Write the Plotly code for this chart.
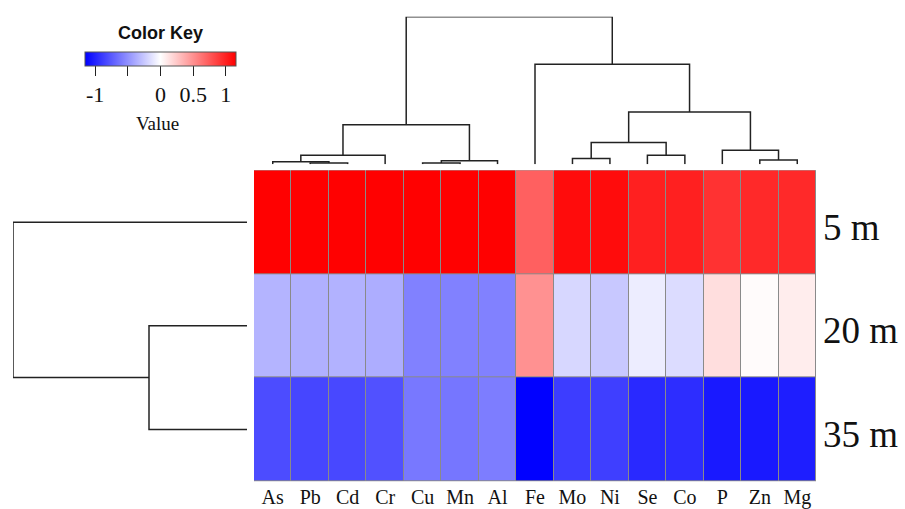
import plotly.graph_objects as go

# ---------------- data ----------------
elements = ["As", "Pb", "Cd", "Cr", "Cu", "Mn", "Al", "Fe", "Mo", "Ni", "Se", "Co", "P", "Zn", "Mg"]
depths = ["5 m", "20 m", "35 m"]

z_5m = [1.15, 1.15, 1.15, 1.15, 1.15, 1.15, 1.15, 0.72, 1.10, 1.10, 1.01, 1.01, 0.93, 0.97, 0.97]
z_20m = [-0.34, -0.36, -0.35, -0.37, -0.57, -0.57, -0.57, 0.50, -0.18, -0.25, -0.08, -0.16, 0.15, 0.02, 0.08]
z_35m = [-0.81, -0.84, -0.83, -0.79, -0.61, -0.62, -0.59, -1.15, -0.88, -0.87, -0.97, -0.95, -1.04, -1.04, -1.02]

# column dendrogram (merge list: left child, right child, height); new clusters named C1, C2, ...
col_link_left = ["Pb", "As", "C2", "Cu", "C4", "C3", "Mo", "Se", "C7", "Zn", "P", "C9", "Fe", "C6"]
col_link_right = ["Cd", "C1", "Cr", "Mn", "Al", "C5", "Ni", "Co", "C8", "Mg", "C10", "C11", "C12", "C13"]
col_link_height = [1.5, 2.7, 9.3, 1.5, 3.7, 40, 6, 9.3, 22, 4.3, 14.3, 53, 101, 149]

# row dendrogram
row_link_left = ["20 m", "5 m"]
row_link_right = ["35 m", "C1"]
row_link_height = [98, 234]

# colour key ticks
key_ticks = [-1, -0.5, 0, 0.5, 1]
key_ticktext = ["-1", "", "0", "0.5", "1"]

# ---------------- helpers ----------------
W, H = 905, 509


def dendro_lines(leaves, lefts, rights, heights):
    pos = {name: i for i, name in enumerate(leaves)}
    hgt = {name: 0.0 for name in leaves}
    xs, hs = [], []
    for k, (a, b, h) in enumerate(zip(lefts, rights, heights), start=1):
        xa, xb = pos[a], pos[b]
        xs += [xa, xa, xb, xb, None]
        hs += [hgt[a], h, h, hgt[b], None]
        pos[f"C{k}"] = (xa + xb) / 2
        hgt[f"C{k}"] = h
    return xs, hs


serif = "Liberation Serif, Times New Roman, serif"
line_col = "#222222"

hm_x = [254 / W, 816 / W]
hm_y = [23 / H, 337 / H]

fig = go.Figure()

# heatmap
fig.add_trace(go.Heatmap(
    z=[z_5m, z_20m, z_35m],
    x=list(range(len(elements))),
    y=list(range(len(depths))),
    zmin=-1.155, zmax=1.155,
    colorscale=[[0, "#0000ff"], [0.5, "#ffffff"], [1, "#ff0000"]],
    xgap=1, ygap=1,
    xaxis="x", yaxis="y",
    hoverinfo="skip",
    colorbar=dict(
        orientation="h",
        x=85 / W, xanchor="left",
        y=(H - 53) / H, yanchor="top",
        len=151, lenmode="pixels",
        thickness=14, thicknessmode="pixels",
        xpad=0, ypad=0,
        outlinewidth=1, outlinecolor="#555555",
        tickmode="array", tickvals=key_ticks, ticktext=key_ticktext,
        ticks="outside", ticklen=10, tickwidth=1, tickcolor="#222222",
        tickfont=dict(family=serif, size=22, color="#111111"),
    ),
))

# top dendrogram
cx, ch = dendro_lines(elements, col_link_left, col_link_right, col_link_height)
fig.add_trace(go.Scatter(x=cx, y=ch, mode="lines", line=dict(color=line_col, width=1.5),
                         xaxis="x2", yaxis="y2", hoverinfo="skip", showlegend=False))

# left dendrogram
rx, rh = dendro_lines(depths, row_link_left, row_link_right, row_link_height)
fig.add_trace(go.Scatter(x=rh, y=rx, mode="lines", line=dict(color=line_col, width=1.5),
                         xaxis="x3", yaxis="y3", hoverinfo="skip", showlegend=False))

fig.update_layout(
    width=W, height=H,
    margin=dict(l=0, r=0, t=0, b=0),
    paper_bgcolor="white", plot_bgcolor="rgba(0,0,0,0)",
    showlegend=False,
    xaxis=dict(domain=hm_x, range=[-0.5, len(elements) - 0.5], tickmode="array",
               tickvals=list(range(len(elements))), ticktext=elements,
               tickfont=dict(family=serif, size=20, color="#111111"),
               showgrid=False, zeroline=False, showline=False, ticks="", ticklabelstandoff=2,
               fixedrange=True),
    yaxis=dict(domain=hm_y, range=[len(depths) - 0.5, -0.5], showticklabels=False,
               showgrid=False, zeroline=False, showline=False, ticks="", fixedrange=True),
    xaxis2=dict(domain=hm_x, range=[-0.5, len(elements) - 0.5], anchor="y2", visible=False),
    yaxis2=dict(domain=[(H - 166) / H, (H - 17) / H], range=[0, 149], anchor="x2", visible=False),
    xaxis3=dict(domain=[13 / W, 247 / W], range=[234, 0], anchor="y3", visible=False),
    yaxis3=dict(domain=hm_y, range=[len(depths) - 0.5, -0.5], anchor="x3", visible=False),
    shapes=[dict(type="rect", xref="x", yref="y", x0=-0.5, x1=len(elements) - 0.5,
                 y0=-0.5, y1=len(depths) - 0.5, fillcolor="#8a8a8a",
                 line=dict(color="#8a8a8a", width=1), layer="below")],
)

annotations = [
    dict(text="<b>Color Key</b>", x=160 / W, y=(H - 33) / H, xref="paper", yref="paper",
         showarrow=False, xanchor="center", yanchor="middle",
         font=dict(family="Liberation Sans, Arial, sans-serif", size=18, color="#111111")),
    dict(text="Value", x=157 / W, y=(H - 125) / H, xref="paper", yref="paper",
         showarrow=False, xanchor="center", yanchor="middle",
         font=dict(family=serif, size=19, color="#111111")),
]
for i, d in enumerate(depths):
    annotations.append(dict(text=d, x=821 / W, y=i, xref="paper", yref="y", showarrow=False,
                            xanchor="left", yanchor="middle", yshift=-5,
                            font=dict(family=serif, size=37, color="#111111")))
fig.update_layout(annotations=annotations)

fig.write_html("out.html", config={"displayModeBar": False},
               post_script="document.body.style.margin='0px';")
